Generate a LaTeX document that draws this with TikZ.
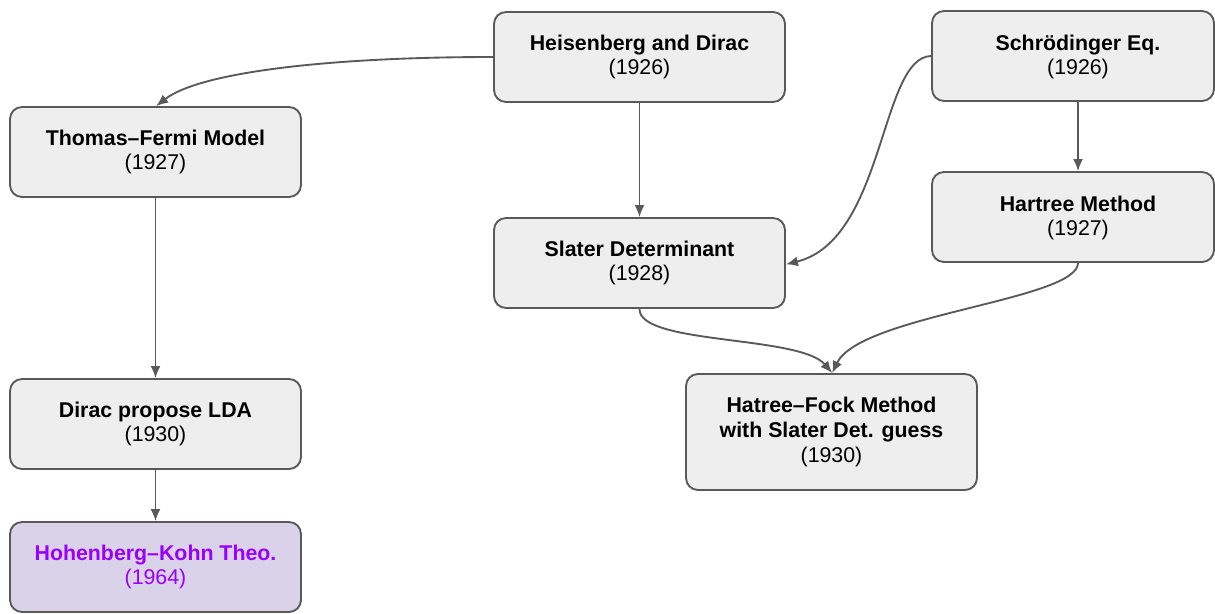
\documentclass[tikz,border=0pt]{standalone}
\usepackage{fontspec}
\setmainfont{Liberation Sans}
\usetikzlibrary{arrows.meta}
\definecolor{boxfill}{HTML}{EEEEEE}
\definecolor{boxline}{HTML}{595959}
\definecolor{hkfill}{HTML}{D9D2E9}
\definecolor{hktext}{HTML}{9900FF}
\begin{document}
\begin{tikzpicture}[x=0.75pt,y=-0.75pt,
  box/.style={draw=boxline, line width=1.4pt, fill=boxfill, rounded corners=9pt,
    minimum width=218.25pt, minimum height=67.5pt, inner sep=0pt,
    align=center, font=\fontsize{16pt}{18.6pt}\selectfont},
  txt/.style={align=center, inner sep=0pt, font=\fontsize{16pt}{18.6pt}\selectfont},
  link/.style={draw=boxline, line width=1.4pt, -{Latex[length=9pt,width=7.5pt]}}]
\useasboundingbox (0,0) rectangle (1215,614);

% timeline boxes
\node[box] (heis) at (639.5,57) {\textbf{Heisenberg and Dirac}\\(1926)};
\node[box, minimum width=211.5pt] (schr) at (1073,56) {};
\node[txt] (schrt) at (1078,57) {\textbf{Schrödinger Eq.}\\(1926)};
\node[box] (tf) at (155.5,152) {\textbf{Thomas–Fermi Model}\\(1927)};
\node[box, minimum width=211.5pt] (hart) at (1073,217) {};
\node[txt] (hartt) at (1078,218) {\textbf{Hartree Method}\\(1927)};
\node[box] (slat) at (639.5,263) {\textbf{Slater Determinant}\\(1928)};
\node[box] (lda) at (155.5,424) {\textbf{Dirac propose LDA}\\(1930)};
\node[box, minimum height=87pt] (hf) at (831.5,432) {\textbf{Hatree–Fock Method}\\\textbf{with Slater Det. guess}\\(1930)};
\node[box, fill=hkfill, text=hktext] (hk) at (155.5,567) {\textbf{Hohenberg–Kohn Theo.}\\(1964)};

% connectors
\draw[link] (heis.west) .. controls (330,57) and (200,72) .. ([xshift=0.5pt]tf.north);
\draw[link] (heis.south) -- (slat.north);
\draw[link] (schr.west) .. controls (880,57) and (885,240) .. ([yshift=-1pt]slat.east);
\draw[link] (schr.south -| hartt) -- (hart.north -| hartt);
\draw[link] (tf.south) -- (lda.north);
\draw[link] (lda.south) -- (hk.north);
\draw[link] (slat.south) .. controls (639,345) and (800,335) .. ([xshift=0.5pt]hf.north);
\draw[link] (hart.south -| hartt) .. controls (1078,300) and (860,315) .. ([xshift=0.5pt]hf.north);
\end{tikzpicture}
\end{document}
